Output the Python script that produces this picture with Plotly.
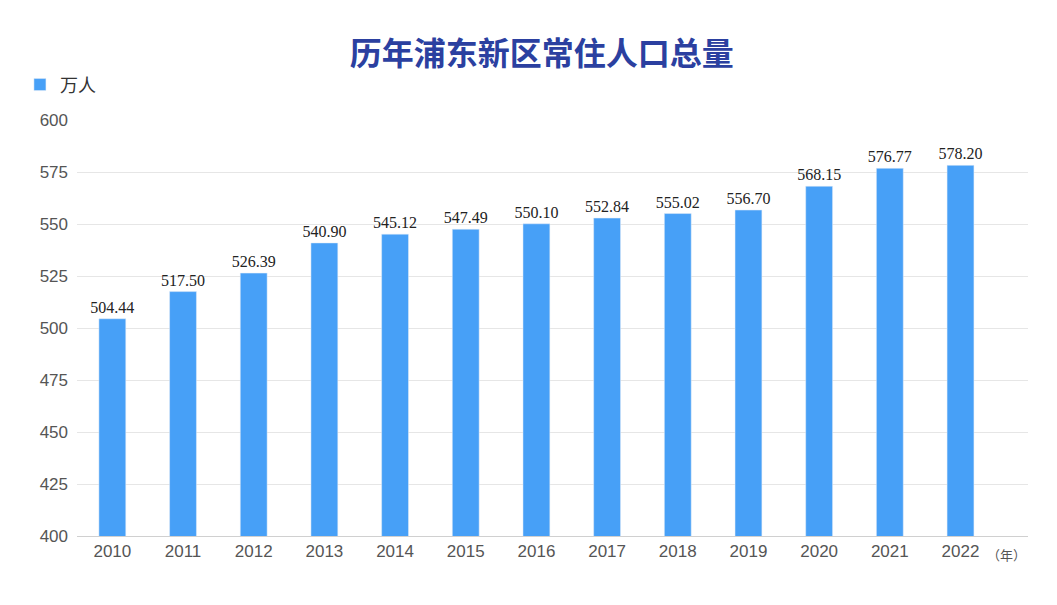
import plotly.graph_objects as go

years = ["2010","2011","2012","2013","2014","2015","2016","2017","2018","2019","2020","2021","2022"]
values = [504.44,517.50,526.39,540.90,545.12,547.49,550.10,552.84,555.02,556.70,568.15,576.77,578.20]
labels = [f"{v:.2f}" for v in values]

fig = go.Figure(go.Bar(
    x=years, y=values, name="万人", width=0.38,
    marker_color="#47a0f7",
    text=labels, textposition="outside", cliponaxis=False, constraintext="none",
    textfont=dict(family="Liberation Serif", size=16, color="#222"),
    outsidetextfont=dict(family="Liberation Serif", size=16, color="#222"),
))
fig.update_layout(
    width=1057, height=605,
    margin=dict(l=60, r=37, t=112, b=77),
    uniformtext=dict(minsize=16, mode="show"),
    plot_bgcolor="white", paper_bgcolor="white",
    title=dict(text="<b>历年浦东新区常住人口总量</b>", x=0.505, xanchor="center", y=0.925, yanchor="middle",
               font=dict(family="Noto Sans CJK SC", size=32, color="#2b40a0")),
    showlegend=True,
    legend=dict(x=-0.06, y=1.04, xanchor="left", yanchor="bottom", orientation="h",
                font=dict(family="Noto Sans CJK SC", size=18, color="#333")),
    yaxis=dict(range=[400, 600], dtick=25, showgrid=True, gridcolor="#e6e6e6",
               tickfont=dict(family="Liberation Sans", size=17, color="#555"), ticklabelstandoff=8),
    xaxis=dict(showline=True, linecolor="#d0d0d0",
               tickfont=dict(family="Liberation Sans", size=17, color="#555")),
)
fig.add_annotation(x=12, y=0, xref="x", yref="paper", text="（年）", showarrow=False,
                   xshift=46, yshift=-30, font=dict(family="Noto Sans CJK SC", size=13, color="#555"))
fig.write_html("out.html")
